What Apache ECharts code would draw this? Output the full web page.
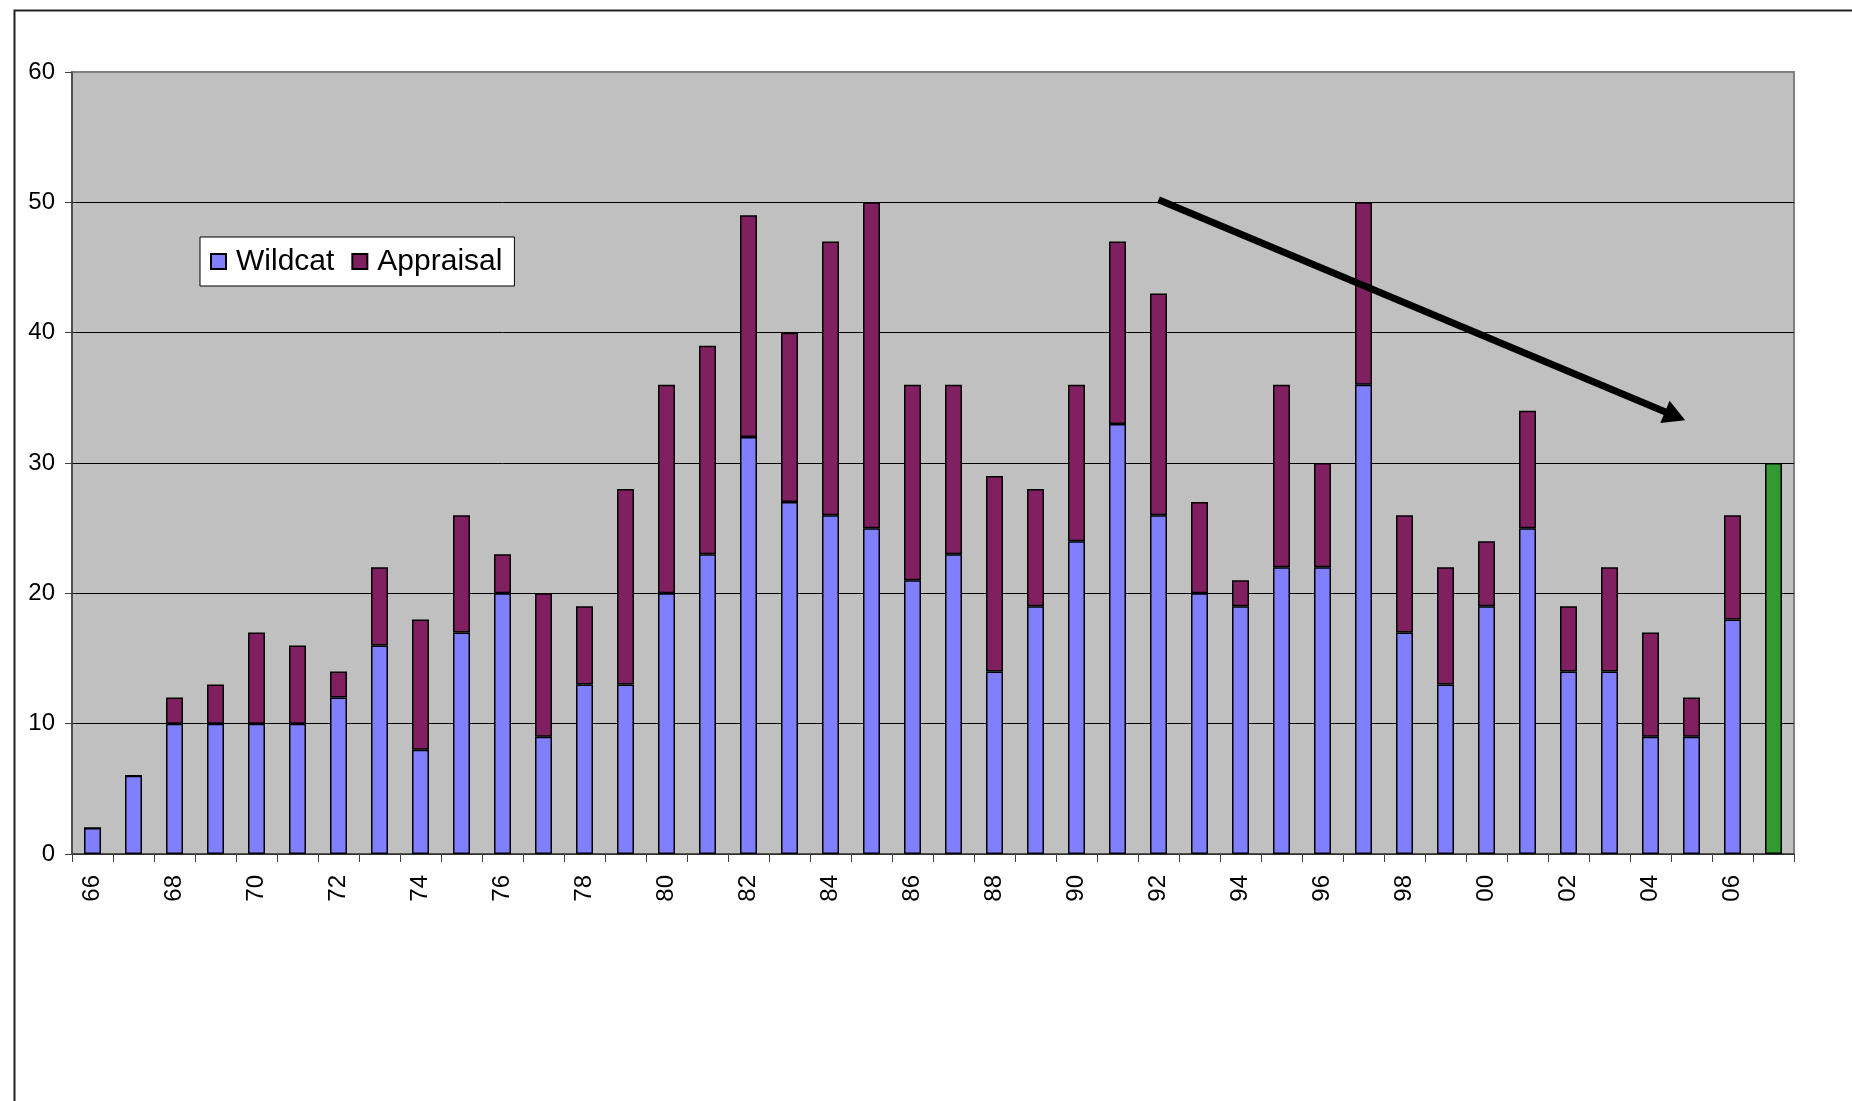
<!DOCTYPE html>
<html>
<head>
<meta charset="utf-8">
<script src="https://cdn.jsdelivr.net/npm/echarts@6/dist/echarts.min.js"></script>
<style>
html,body{margin:0;padding:0;background:#fff;}
#chart{width:1852px;height:1101px;}
</style>
</head>
<body>
<div id="chart"></div>
<script>
const years = ['66','67','68','69','70','71','72','73','74','75','76','77','78','79','80','81','82','83','84','85','86','87','88','89','90','91','92','93','94','95','96','97','98','99','00','01','02','03','04','05','06','07'];
const wildcat = [2,6,10,10,10,10,12,16,8,17,20,9,13,13,20,23,32,27,26,25,21,23,14,19,24,33,26,20,19,22,22,36,17,13,19,25,14,14,9,9,18,null];
const appraisal = [0,0,2,3,7,6,2,6,10,9,3,11,6,15,16,16,17,13,21,25,15,13,15,9,12,14,17,7,2,14,8,14,9,9,5,9,5,8,8,3,8,null];
const latest = [null,null,null,null,null,null,null,null,null,null,null,null,null,null,null,null,null,null,null,null,null,null,null,null,null,null,null,null,null,null,null,null,null,null,null,null,null,null,null,null,null,30];
const yTicks = [0, 60, 10];
const arrowStart = [26, 50.2];
const arrowEnd = [38.6, 33.6];

const FONT = "'Liberation Sans', Arial, sans-serif";
const chart = echarts.init(document.getElementById('chart'), null, {renderer: 'canvas'});
const barBorder = {borderColor: '#000', borderWidth: 1.5};

chart.setOption({
  animation: false,
  backgroundColor: '#fff',
  textStyle: {fontFamily: FONT},
  grid: {
    left: 72, top: 72, right: 58, bottom: 247,
    show: true, backgroundColor: '#C0C0C0', borderColor: '#808080', borderWidth: 2,
    containLabel: false
  },
  legend: {
    data: ['Wildcat', 'Appraisal'],
    left: 200, top: 237,
    orient: 'horizontal',
    backgroundColor: '#fff', borderColor: '#000', borderWidth: 1,
    padding: [8, 12, 8, 10],
    itemWidth: 15, itemHeight: 15, itemGap: 17,
    icon: 'rect',
    textStyle: {fontFamily: FONT, fontSize: 30, color: '#000', lineHeight: 33, padding: [0, 0, 0, 5]}
  },
  xAxis: [{
    type: 'category',
    data: years,
    boundaryGap: true,
    axisLine: {onZero: false, lineStyle: {color: '#404040', width: 1.5}},
    axisTick: {show: true, interval: 0, alignWithLabel: false, length: 8, lineStyle: {color: '#404040', width: 1}},
    axisLabel: {interval: 1, rotate: 90, margin: 21, fontSize: 24, color: '#000', fontFamily: FONT},
    splitLine: {show: false}
  }, {
    type: 'value',
    min: -0.5, max: 41.5,
    show: false,
    axisLine: {onZero: false}
  }],
  yAxis: {
    type: 'value',
    min: yTicks[0], max: yTicks[1], interval: yTicks[2],
    axisLine: {show: true, onZero: false, lineStyle: {color: '#404040', width: 1.5}},
    axisTick: {show: true, length: 7, lineStyle: {color: '#404040'}},
    axisLabel: {margin: 17, fontSize: 24, color: '#000', fontFamily: FONT},
    splitLine: {show: true, lineStyle: {color: ['#000','#000','#000','#000','#000','#000','#808080'], width: 1}}
  },
  series: [
    {name: 'Wildcat', type: 'bar', stack: 'wells', data: wildcat, barWidth: 17,
     itemStyle: Object.assign({color: '#8080FF'}, barBorder)},
    {name: 'Appraisal', type: 'bar', stack: 'wells', data: appraisal, barWidth: 17,
     itemStyle: Object.assign({color: '#802060'}, barBorder)},
    {name: '2007', type: 'bar', stack: 'wells', data: latest, barWidth: 17,
     itemStyle: Object.assign({color: '#339933'}, barBorder)},
    {name: 'trend', type: 'line', xAxisIndex: 1, data: [], silent: true,
     markLine: {
       silent: true, animation: false,
       symbol: ['none', 'triangle'], symbolSize: [24, 22],
       label: {show: false},
       lineStyle: {color: '#000', width: 7, type: 'solid'},
       emphasis: {disabled: true},
       data: [[{coord: arrowStart}, {coord: arrowEnd}]]
     }}
  ],
  graphic: [{
    type: 'rect', left: 12, top: 8, silent: true, z: 100,
    shape: {width: 1900, height: 1200},
    style: {fill: 'none', stroke: '#222', lineWidth: 2}
  }]
});
</script>
</body>
</html>
